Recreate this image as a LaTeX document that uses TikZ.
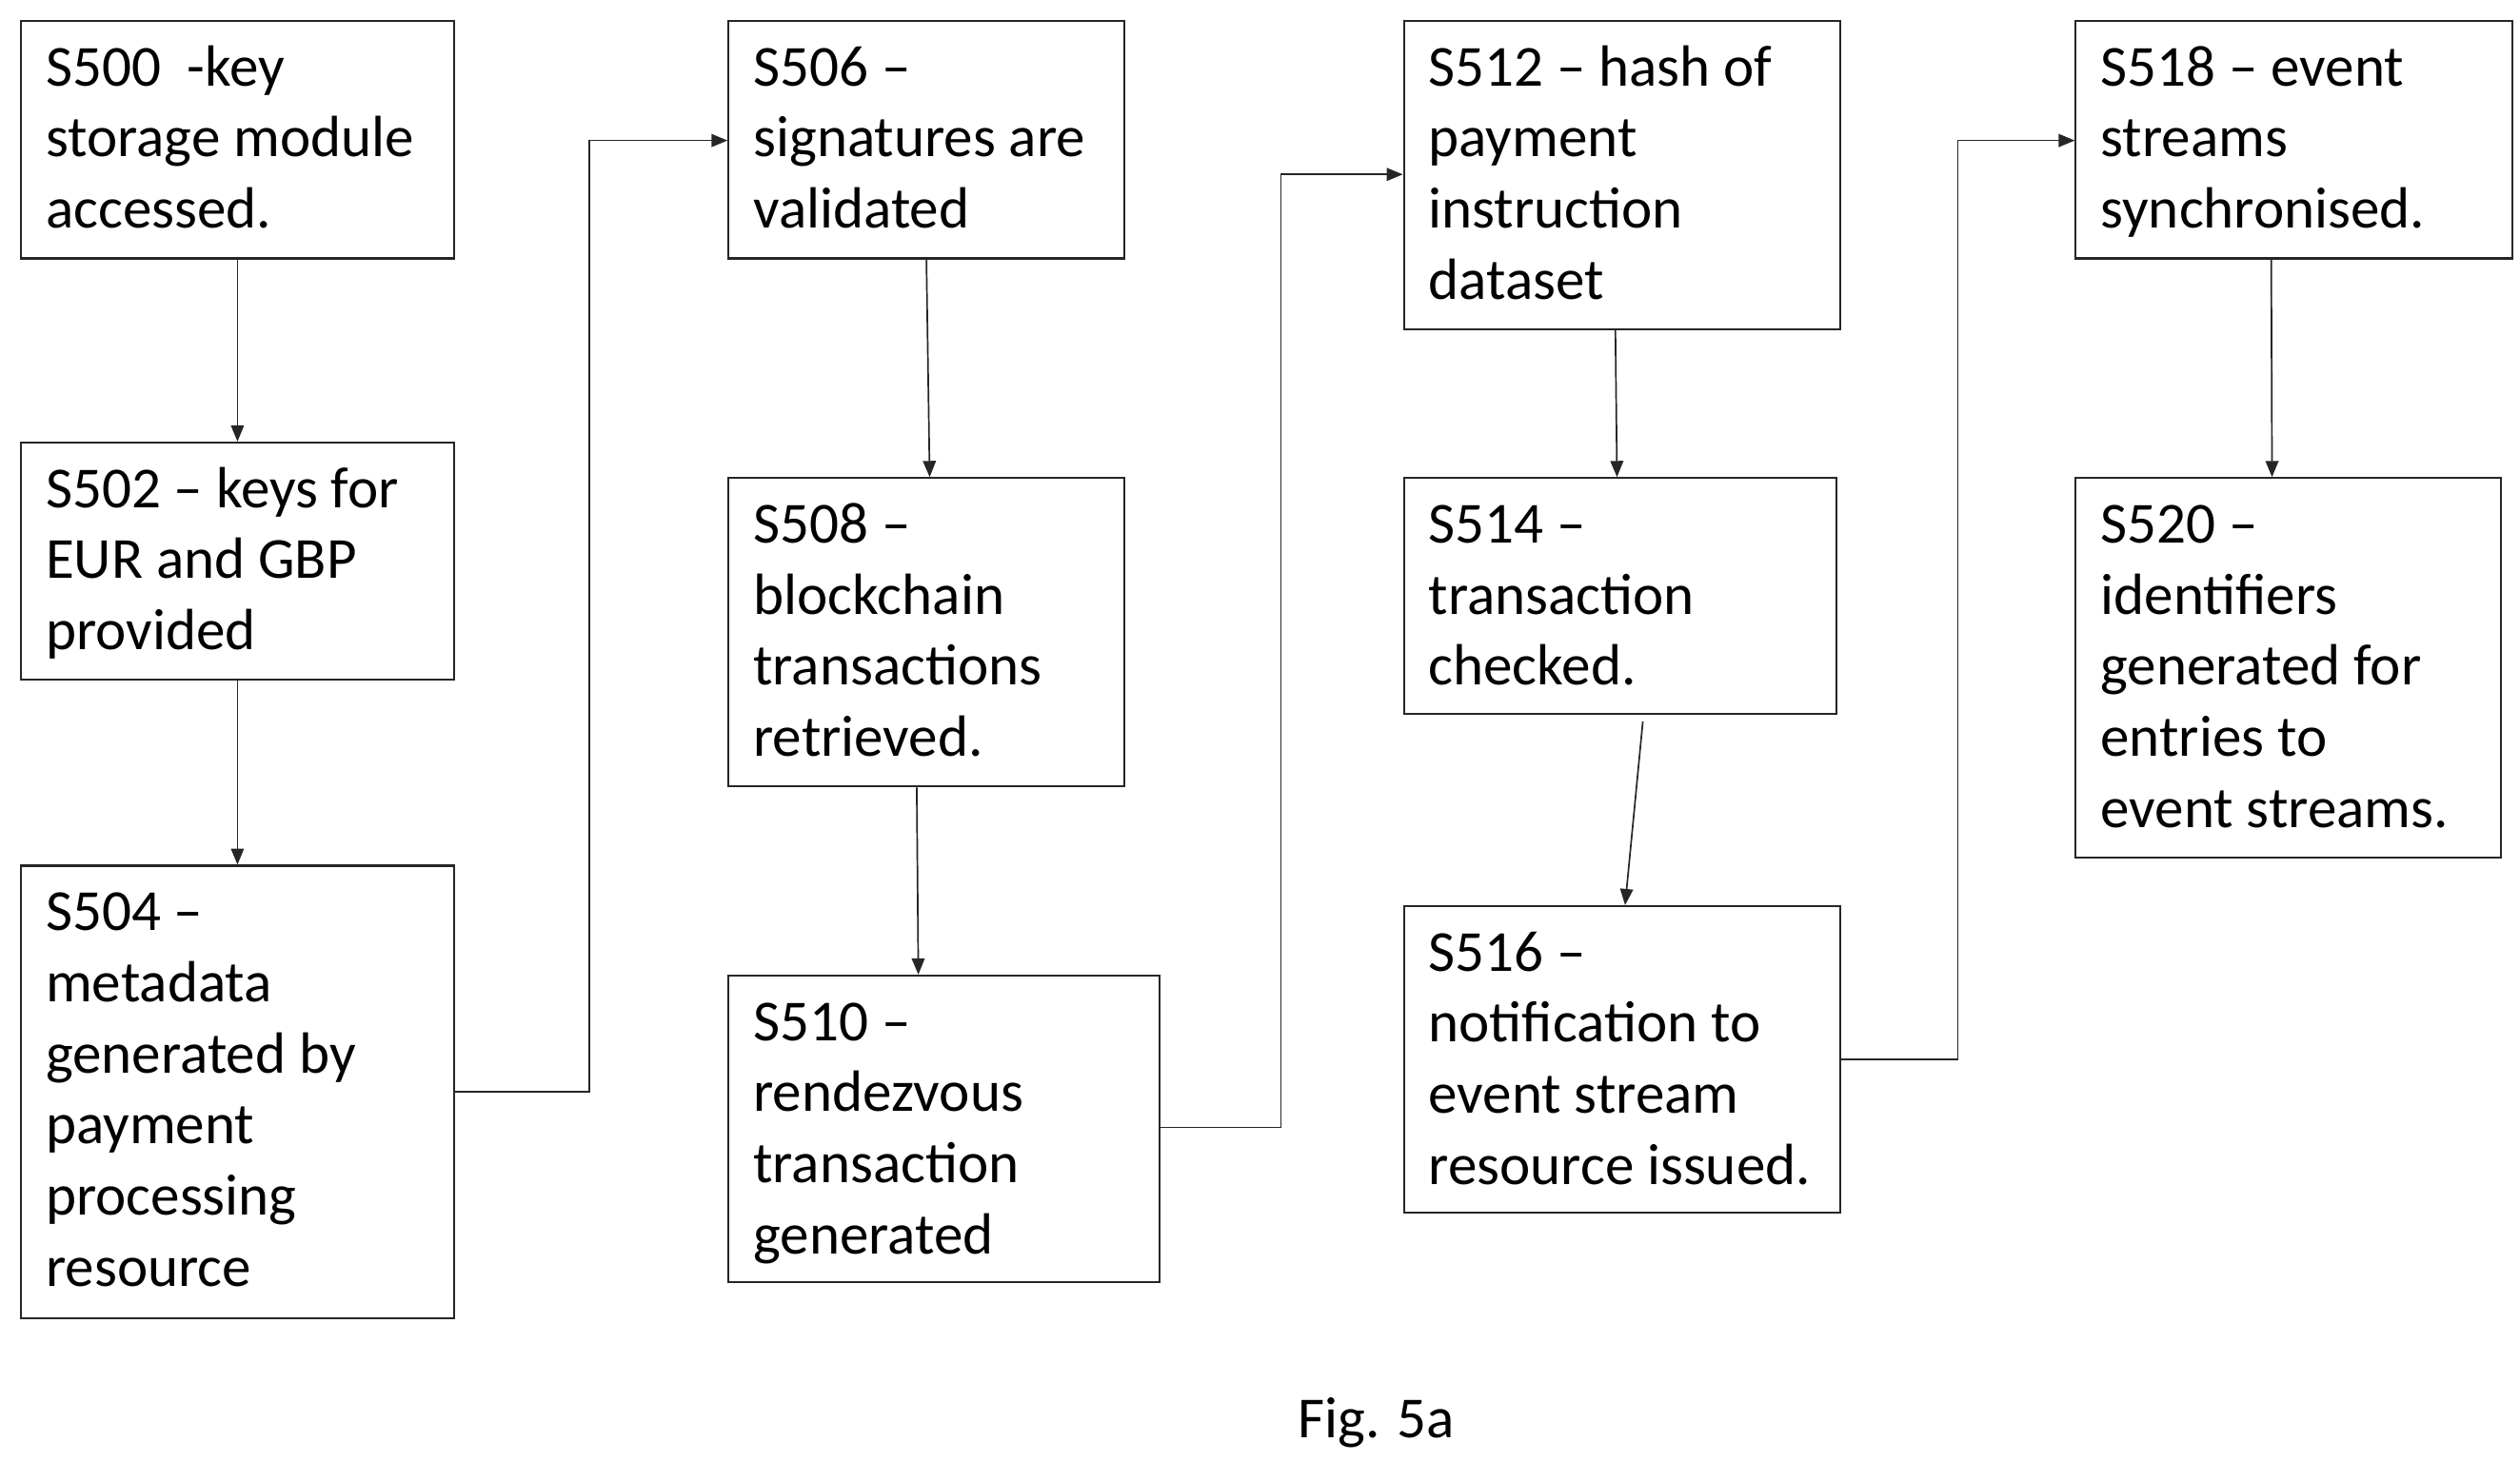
\documentclass[tikz,border=0pt]{standalone}
\usepackage{fontspec}
\setmainfont{Carlito}
\usetikzlibrary{fit,arrows.meta}
\begin{document}
\begin{tikzpicture}[x=0.5pt,y=-0.5pt,
  box/.style={draw=black!85,line width=0.6pt,inner sep=0pt},
  txt/.style={anchor=north west,align=left,inner sep=0pt,font=\fontsize{18}{22}\selectfont},
  arr/.style={draw=black!85,line width=0.5pt,-{Triangle[length=5pt,width=4pt]}}]
\useasboundingbox (0,0) rectangle (1560,905);
\newcommand\bx[6]{%
  \coordinate (#1a) at (#2,#3); \coordinate (#1b) at (#4,#5);
  \node[box,fit=(#1a)(#1b)] (#1) {};
  \node[txt] (t#1) at (#2+15,#3+40-31) {\strut#6};}
\bx{s500}{13}{13}{281}{160}{S500\ \ -key\\storage module\\accessed.}
\bx{s502}{13}{274}{281}{421}{S502 -- keys for\\EUR and GBP\\provided}
\bx{s504}{13}{536}{281}{816}{S504 --\\metadata\\generated by\\payment\\processing\\resource}
\bx{s506}{451}{13}{696}{160}{S506 --\\signatures are\\validated}
\bx{s508}{451}{296}{696}{487}{S508 --\\blockchain\\transactions\\retrieved.}
\bx{s510}{451}{604}{718}{794}{S510 --\\rendezvous\\transaction\\generated}
\bx{s512}{869}{13}{1139}{204}{S512 -- hash of\\payment\\instruction\\dataset}
\bx{s514}{869}{296}{1137}{442}{S514 --\\transaction\\checked.}
\bx{s516}{869}{561}{1139}{751}{S516 --\\notification to\\event stream\\resource issued.}
\bx{s518}{1285}{13}{1555}{160}{S518 -- event\\streams\\synchronised.}
\bx{s520}{1285}{296}{1548}{531}{S520 --\\identifiers\\generated for\\entries to\\event streams.}
\node[txt,anchor=base] (fig) at (852,890) {Fig. 5a};
\draw[arr] (s500.south) -- (s502.north);
\draw[arr] (s502.south) -- (s504.north);
\draw[arr] (s504.east |- 0,676) -- (365,676) |- (s506.west |- 0,87);
\draw[arr] (s506.south) -- ([xshift=1pt]s508.north);
\draw[arr] ([xshift=-3pt]s508.south) -- ([xshift=-8pt]s510.north);
\draw[arr] (s510.east |- 0,698) -- (793,698) |- (s512.west |- 0,108);
\draw[arr] ([xshift=-2pt]s512.south) -- ([xshift=-1pt]s514.south |- s514.north);
\draw[arr] ([xshift=7pt,yshift=-2pt]s514.south) -- ([xshift=1pt]s516.north);
\draw[arr] (s516.east |- 0,656) -- (1212,656) |- (s518.west |- 0,87);
\draw[arr] ([xshift=-7pt]s518.south) -- ([xshift=-5pt]s520.north);
\end{tikzpicture}
\end{document}
